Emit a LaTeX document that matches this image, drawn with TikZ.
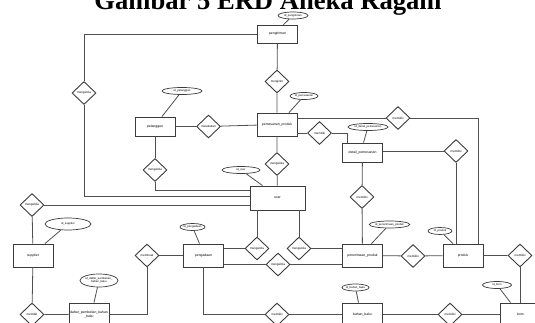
\documentclass[tikz,border=0pt]{standalone}
\usepackage{fontspec}
\setmainfont{Liberation Serif}
\newfontfamily\erdfont{Liberation Sans}
\usetikzlibrary{shapes.geometric,calc}
\definecolor{ink}{HTML}{3C3C3C}
\definecolor{linegray}{HTML}{505050}
\definecolor{paper}{HTML}{FFFFFF}
\tikzset{
  entbox/.style={draw=ink,fill=paper,line width=0.9pt,
                 minimum width=40pt,minimum height=23pt,
                 inner sep=1pt,align=center,font=\erdfont\fontsize{3.4}{4}\selectfont},
  relbox/.style={draw=ink,fill=paper,diamond,line width=0.9pt,
                 minimum width=24pt,minimum height=23pt,
                 inner sep=0pt,font=\erdfont\fontsize{3}{3.6}\selectfont},
  attrbox/.style={draw=ink,fill=paper,ellipse,line width=0.7pt,
                  minimum height=7pt,inner sep=0pt,align=center,
                  font=\erdfont\fontsize{2.8}{3.3}\selectfont},
  link/.style={draw=linegray,line width=0.8pt}
}

\begin{document}
\begin{tikzpicture}[x=1pt,y=-1pt]
  \clip (0,0) rectangle (535,323);
  \fill[white] (0,0) rectangle (535,323);
  \node[anchor=base,inner sep=0pt,text depth=0pt,font=\fontsize{26.6}{30}\selectfont\bfseries] (title) at (268,9.5) {Gambar 5 ERD Aneka Ragam};

  % entitas
  \node[entbox,minimum height=18pt] (pengiriman) at (277.5,34) {pengiriman};
  \node[entbox] (pemesanan) at (277,124.5) {pemesanan\_produk};
  \node[entbox,minimum height=19pt] (pelanggan) at (155,126.5) {pelanggan};
  \node[entbox,minimum height=19pt] (detail) at (362.5,152.5) {detail\_pemesanan};
  \node[entbox,minimum width=55pt,minimum height=24pt] (user) at (277.5,198) {user};
  \node[entbox] (supplier) at (33,255.5) {supplier};
  \node[entbox] (pengadaan) at (203.5,255.5) {pengadaan};
  \node[entbox] (penerimaan) at (362.5,255.5) {penerimaan\_produk};
  \node[entbox] (produk) at (463,255.5) {produk};
  \node[entbox] (daftar) at (89,314.5) {daftar\_pembelian\_bahan\\\_baku};
  \node[entbox] (bahan) at (362.5,314.5) {bahan\_baku};
  \node[entbox] (bom) at (520.5,314.5) {bom};

  % atribut
  \node[attrbox,minimum width=30pt] (idpengiriman) at (293,15.5) {id\_pengiriman};
  \node[attrbox,minimum width=28pt] (idpemesanan) at (304,96) {id\_pemesanan};
  \node[attrbox,minimum width=40pt] (idpelanggan) at (182,91) {id\_pelanggan};
  \node[attrbox,minimum width=40pt] (iddetail) at (368,127) {id\_detail\_pemesanan};
  \node[attrbox,minimum width=38pt] (iduser) at (241,170) {id\_user};
  \node[attrbox,minimum width=46pt,minimum height=12pt] (idsupplier) at (68,224) {id\_supplier};
  \node[attrbox,minimum width=25pt] (idpengadaan) at (192.5,227) {id\_pengadaan};
  \node[attrbox,minimum width=39pt] (idpenerimaan) at (389.5,224.5) {id\_penerimaan\_produk};
  \node[attrbox,minimum width=24pt] (idproduk) at (440,231) {id\_produk};
  \node[attrbox,minimum width=38pt,minimum height=13pt] (iddaftar) at (99,280.5) {id\_daftar\_pembelian\_\\bahan\_baku};
  \node[attrbox,minimum width=25pt] (idbahan) at (355.5,287.5) {id\_bahan\_baku};
  \node[attrbox,minimum width=29pt] (idbom) at (497,285) {id\_bom};

  % relasi
  \node[relbox] (mengirim) at (277,81.5) {mengirim};
  \node[relbox] (mglA) at (84,93) {mengelola};
  \node[relbox] (melakukan) at (208.5,126.5) {melakukan};
  \node[relbox] (mglB) at (155,170) {mengelola};
  \node[relbox] (mglD) at (277,164) {mengelola};
  \node[relbox] (memA) at (319.5,133) {memiliki};
  \node[relbox] (memB) at (398,118) {memiliki};
  \node[relbox] (memC) at (456,151) {memiliki};
  \node[relbox] (memD) at (362,197) {memiliki};
  \node[relbox] (mglC) at (32,205) {mengelola};
  \node[relbox] (membuat) at (147,255.5) {membuat};
  \node[relbox] (mglE) at (257,248.5) {mengelola};
  \node[relbox] (mglF) at (299,248.5) {mengelola};
  \node[relbox] (mglG) at (278,264.5) {mengelola};
  \node[relbox] (memF) at (413,256) {memiliki};
  \node[relbox] (memG) at (520,255.5) {memiliki};
  \node[relbox] (memE) at (32,314.5) {memiliki};
  \node[relbox] (memH) at (277,314.5) {memiliki};
  \node[relbox] (memI) at (450,314.5) {memiliki};

  % garis relasi
  \draw[link] (pengiriman.west) -| (mglA.north);
  \draw[link] (mglA.south) |- ($(user.west)+(0,-2)$);
  \draw[link] (mglB.south) |- ($(user.west)+(0,-8)$);
  \draw[link] (mglC.east) -- (mglC.east -| user.west);
  \draw[link] (pengiriman) -- (mengirim) -- (pemesanan);
  \draw[link] (pelanggan) -- (melakukan) -- (pemesanan);
  \draw[link] (pelanggan) -- (mglB);
  \draw[link] (pemesanan) -- (mglD) -- (user);
  \draw[link] (memA.west) -- (memA.west -| pemesanan.east);
  \draw[link] (memA.east) -| ($(detail.north)+(-15,0)$);
  \draw[link] (memB.west) -- (memB.west -| pemesanan.east);
  \draw[link] (memB.east) -| ($(produk.north east)+(-5,0)$);
  \draw[link] (detail.east |- memC) -- (memC.west);
  \draw[link] (memC.south) -- (memC |- produk.north);
  \draw[link] (detail) -- (memD) -- (penerimaan);
  \draw[link] (mglC) -- (supplier) -- (memE) -- (daftar);
  \draw[link] (daftar.east) -| (membuat.south);
  \draw[link] (membuat) -- (pengadaan);
  \draw[link] (mglE.north) -- (mglE |- user.south);
  \draw[link] (mglE.west) -- (mglE.west -| pengadaan.east);
  \draw[link] (mglF.north) -- (mglF |- user.south);
  \draw[link] (mglF.east) -- (mglF.east -| penerimaan.west);
  \draw[link] (mglG.west -| pengadaan.east) -- (mglG.west);
  \draw[link] (mglG.east) -- (mglG.east -| penerimaan.west);
  \draw[link] (penerimaan) -- (memF) -- (produk) -- (memG);
  \draw[link] (memG.south) -- (memG |- bom.north);
  \draw[link] (pengadaan.south) |- (memH.west);
  \draw[link] (memH) -- (bahan) -- (memI) -- (bom);

  % garis atribut
  \draw[link] (idpengiriman) -- ($(pengiriman.north)+(6,0)$);
  \draw[link] (idpemesanan) -- ($(pemesanan.north)+(12,0)$);
  \draw[link] (idpelanggan) -- ($(pelanggan.north)+(7,0)$);
  \draw[link] (iddetail) -- ($(detail.north)+(1,0)$);
  \draw[link] (iduser) -- ($(user.north)+(-15,0)$);
  \draw[link] (idsupplier) -- ($(supplier.north)+(12,0)$);
  \draw[link] (idpengadaan) -- ($(pengadaan.north)+(-4,0)$);
  \draw[link] (idpenerimaan) -- ($(penerimaan.north)+(9,0)$);
  \draw[link] (idproduk) -- ($(produk.north)+(-10,0)$);
  \draw[link] (iddaftar) -- ($(daftar.north)+(5,0)$);
  \draw[link] (idbahan) -- ($(bahan.north)+(-4,0)$);
  \draw[link] (idbom) -- ($(bom.north)+(-10,0)$);
\end{tikzpicture}
\end{document}
